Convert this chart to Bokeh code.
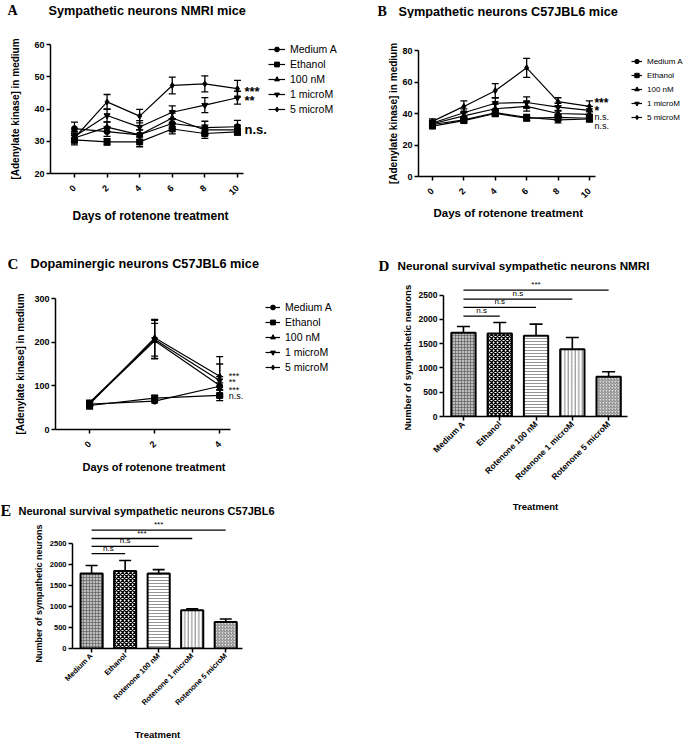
import math
from bokeh.plotting import figure
from bokeh.models import (Range1d, FixedTicker, Whisker, TeeHead, ColumnDataSource,
                          Label, Legend, LegendItem, Title)
from bokeh.core.properties import value
from bokeh.layouts import row, column
from bokeh.embed import file_html
from bokeh.resources import INLINE

SANS = "Liberation Sans"
SERIF = "Liberation Serif"

# ---------------- data ----------------
series_names = ["Medium A", "Ethanol", "100 nM", "1 microM", "5 microM"]
series_markers = ["circle", "square", "triangle", "inverted_triangle", "diamond"]

# Panel A - Sympathetic neurons NMRI mice
days_a = [0, 2, 4, 6, 8, 10]
a_medium = [33.9, 33.0, 32.0, 35.5, 34.2, 34.5]
a_ethanol = [30.4, 29.8, 29.8, 33.8, 32.4, 32.9]
a_100nm = [31.0, 34.4, 32.0, 37.2, 33.5, 33.5]
a_1um = [31.5, 38.0, 34.4, 39.0, 41.2, 43.5]
a_5um = [31.0, 42.2, 37.8, 47.3, 47.8, 46.3]
a_medium_err = [2.0, 1.5, 1.5, 1.5, 2.0, 2.0]
a_ethanol_err = [1.5, 1.0, 1.5, 1.5, 1.5, 1.0]
a_100nm_err = [1.5, 1.5, 1.5, 1.5, 1.5, 1.5]
a_1um_err = [1.5, 2.0, 2.0, 2.0, 2.3, 2.0]
a_5um_err = [1.5, 2.3, 2.1, 2.6, 2.5, 2.6]
a_yticks = [20, 30, 40, 50, 60]
a_sig_text = ["***", "**", "n.s."]
a_sig_y = [45.4, 42.6, 33.6]

# Panel B - Sympathetic neurons C57JBL6 mice
days_b = [0, 2, 4, 6, 8, 10]
b_medium = [33.0, 36.0, 40.5, 37.5, 36.0, 36.5]
b_ethanol = [32.0, 35.5, 40.0, 37.0, 37.5, 37.0]
b_100nm = [33.5, 38.5, 43.0, 44.5, 40.0, 39.5]
b_1um = [34.0, 40.5, 46.5, 47.0, 44.0, 42.0]
b_5um = [35.0, 44.5, 54.5, 69.0, 47.5, 44.5]
b_medium_err = [1.5, 1.5, 2.0, 2.0, 2.0, 2.0]
b_ethanol_err = [1.5, 1.5, 2.0, 1.5, 2.0, 2.0]
b_100nm_err = [1.5, 2.0, 3.0, 3.0, 2.0, 2.0]
b_1um_err = [1.5, 2.5, 3.5, 3.5, 2.5, 2.5]
b_5um_err = [1.5, 3.5, 4.5, 6.0, 2.5, 3.5]
b_yticks = [0, 20, 40, 60, 80]
b_sig_text = ["***", "*", "n.s.", "n.s."]
b_sig_y = [46.5, 41.4, 37.5, 32.0]

# Panel C - Dopaminergic neurons C57JBL6 mice
days_c = [0, 2, 4]
c_medium = [58, 65, 99]
c_ethanol = [55, 72, 78]
c_100nm = [60, 203, 101]
c_1um = [62, 206, 112]
c_5um = [58, 210, 122]
c_medium_err = [5, 4, 8]
c_ethanol_err = [8, 6, 12]
c_100nm_err = [5, 40, 20]
c_1um_err = [5, 44, 38]
c_5um_err = [5, 42, 45]
c_yticks = [0, 100, 200, 300]
c_sig_text = ["***", "**", "***", "n.s."]
c_sig_y = [123, 109, 91, 75.6]

# Panel D - Neuronal survival sympathetic neurons NMRI
treatments = ["Medium A", "Ethanol", "Rotenone 100 nM", "Rotenone 1 microM", "Rotenone 5 microM"]
d_values = [1724, 1710, 1662, 1387, 817]
d_errors = [130, 227, 240, 241, 103]
d_sig_y = [2067, 2246, 2418, 2603]
d_sig_to = [1, 2, 3, 4]
d_sig_text = ["n.s", "n.s", "n.s", "***"]

# Panel E - Neuronal survival sympathetic neurons C57JBL6
e_values = [1789, 1849, 1789, 913, 629]
e_errors = [187, 247, 90, 30, 75]
e_sig_y = [2260, 2433, 2620, 2822]
e_sig_to = [1, 2, 3, 4]
e_sig_text = ["n.s", "n.s", "***", "***"]

bar_yticks = [0, 500, 1000, 1500, 2000, 2500]

# bar fill styles (GraphPad-like patterns)
bar_styles = [
    dict(fill_color="#bdbdbd", hatch_pattern="cross", hatch_scale=3, hatch_weight=0.6, hatch_color="#555555"),
    dict(fill_color="white", hatch_pattern="diagonal_cross", hatch_scale=4, hatch_weight=1.3, hatch_color="black"),
    dict(fill_color="white", hatch_pattern="horizontal_line", hatch_scale=3, hatch_weight=0.7, hatch_color="#666666"),
    dict(fill_color="white", hatch_pattern="vertical_line", hatch_scale=3.5, hatch_weight=0.7, hatch_color="#444444"),
    dict(fill_color="#dddddd", hatch_pattern="right_diagonal_line", hatch_scale=3, hatch_weight=0.7, hatch_color="#555555"),
]


# ---------------- helpers ----------------
def base_fig(width, height, left, top, right, bottom, xr, yr):
    p = figure(width=width, height=height, x_range=Range1d(*xr), y_range=Range1d(*yr),
               output_backend="svg", toolbar_location=None,
               min_border_left=left, min_border_top=top,
               min_border_right=right, min_border_bottom=bottom)
    p.frame_align = False
    p.outline_line_color = None
    p.xgrid.visible = False
    p.ygrid.visible = False
    p.background_fill_color = "white"
    p.border_fill_color = "white"
    return p


def title_fig(width, height, letter, text, lx, tx, ty, letter_fs, text_fs):
    t = figure(width=width, height=height, x_range=Range1d(0, width), y_range=Range1d(height, 0),
               x_axis_type=None, y_axis_type=None, output_backend="svg",
               toolbar_location=None, min_border=0)
    t.frame_align = False
    t.outline_line_color = None
    t.xgrid.visible = False
    t.ygrid.visible = False
    t.text(x=[lx], y=[ty], text=[letter], text_font=value(SERIF), text_font_style="bold",
           text_font_size=letter_fs, text_baseline="middle", text_color="black")
    t.text(x=[tx], y=[ty], text=[text], text_font=value(SANS), text_font_style="bold",
           text_font_size=text_fs, text_baseline="middle", text_color="black")
    return t


def style_axes(p, tick_fs, xlabel, ylabel, xl_fs, yl_fs):
    for ax in (p.xaxis[0], p.yaxis[0]):
        ax.axis_line_color = "black"
        ax.axis_line_width = 1.5
        ax.major_tick_line_color = "black"
        ax.major_tick_line_width = 1.5
        ax.major_tick_out = 4
        ax.major_tick_in = 0
        ax.minor_tick_line_color = None
        ax.major_label_text_font = SANS
        ax.major_label_text_font_style = "bold"
        ax.major_label_text_font_size = tick_fs
        ax.major_label_text_color = "black"
        ax.major_label_standoff = 2
        ax.axis_label_text_font = SANS
        ax.axis_label_text_font_style = "bold"
        ax.axis_label_text_color = "black"
    p.xaxis[0].axis_label = xlabel
    p.xaxis[0].axis_label_text_font_size = xl_fs
    p.xaxis[0].major_label_orientation = math.pi / 4
    p.yaxis[0].axis_label = ylabel
    p.yaxis[0].axis_label_text_font_size = yl_fs


def add_series(p, days, vals, errs, marker, size, cap):
    src = ColumnDataSource(dict(x=days, y=vals,
                                lo=[v - e for v, e in zip(vals, errs)],
                                hi=[v + e for v, e in zip(vals, errs)]))
    w = Whisker(base="x", lower="lo", upper="hi", source=src, dimension="height",
                line_color="black", line_width=1.3,
                upper_head=TeeHead(size=cap, line_color="black", line_width=1.3),
                lower_head=TeeHead(size=cap, line_color="black", line_width=1.3))
    p.add_layout(w)
    ln = p.line("x", "y", source=src, line_color="black", line_width=1.2)
    sc = p.scatter("x", "y", source=src, marker=marker, size=size,
                   fill_color="black", line_color="black")
    return ln, sc


def add_legend(p, renderers, loc, fs, glyph_w, row_h, spacing):
    items = [LegendItem(label=n, renderers=list(r)) for n, r in zip(series_names, renderers)]
    leg = Legend(items=items, location=loc, border_line_color=None,
                 background_fill_alpha=0, label_text_font=SANS, label_text_font_size=fs,
                 label_text_color="black", glyph_width=glyph_w, glyph_height=row_h,
                 label_height=row_h, spacing=spacing, padding=0, margin=0, label_standoff=5)
    p.add_layout(leg)


def add_sig(p, xval, xoff, texts, ys, sizes, styles):
    for t, yv, fs, st in zip(texts, ys, sizes, styles):
        p.add_layout(Label(x=xval, y=yv, x_offset=xoff, text=t, text_font=SANS,
                           text_font_size=fs, text_font_style=st, text_baseline="middle",
                           text_color="black"))


def line_panel(width, height, borders, xr, yr, xbounds, yticks, days, vals, errs,
               msize, cap, tick_fs, xl_fs, xl_offset, xl_stand, yl_stand):
    p = base_fig(width, height, *borders, xr, yr)
    style_axes(p, tick_fs, None, "[Adenylate kinase] in medium", xl_fs, "10px")
    # x-axis title placed below the (extended) frame, aligned under the drawn axis
    p.add_layout(Title(text="Days of rotenone treatment", align="left", offset=xl_offset,
                       standoff=xl_stand, vertical_align="top", text_font=SANS,
                       text_font_style="bold", text_font_size=xl_fs, text_color="black"), "below")
    p.xaxis[0].ticker = FixedTicker(ticks=days)
    p.xaxis[0].bounds = xbounds
    p.xaxis[0].major_label_standoff = 9
    p.yaxis[0].axis_label_standoff = yl_stand
    p.yaxis[0].ticker = FixedTicker(ticks=yticks)
    rends = []
    for v, e, m in zip(vals, errs, series_markers):
        rends.append(add_series(p, days, v, e, m, msize, cap))
    return p, rends


def bar_panel(width, height, borders, xr, yr, values, errors, sig_y, sig_to, sig_text,
              tick_fs, yl_fs, xl_fs, bar_w, cap, sig_fs, xl_stand, yl_stand, yl_offset):
    p = base_fig(width, height, *borders, xr, yr)
    xs = list(range(len(treatments)))
    style_axes(p, tick_fs, "Treatment", None, xl_fs, yl_fs)
    p.add_layout(Title(text="Number of sympathetic neurons", align="left", offset=yl_offset,
                       standoff=yl_stand, vertical_align="bottom", text_font=SANS,
                       text_font_style="bold", text_font_size=yl_fs, text_color="black"), "left")
    p.xaxis[0].ticker = FixedTicker(ticks=xs)
    p.xaxis[0].major_label_overrides = {i: t for i, t in zip(xs, treatments)}
    p.xaxis[0].axis_label_standoff = xl_stand
    p.yaxis[0].ticker = FixedTicker(ticks=bar_yticks)
    p.yaxis[0].bounds = (bar_yticks[0], bar_yticks[-1])
    for i in xs:
        p.vbar(x=[xs[i]], top=[values[i]], width=bar_w, bottom=0,
               line_color="black", line_width=2, **bar_styles[i])
    src = ColumnDataSource(dict(x=xs, top=values, hi=[v + e for v, e in zip(values, errors)]))
    p.add_layout(Whisker(base="x", lower="top", upper="hi", source=src, dimension="height",
                         line_color="black", line_width=1.6, lower_head=None,
                         upper_head=TeeHead(size=cap, line_color="black", line_width=1.6)))
    p.segment(x0=[xs[0]] * len(sig_y), y0=sig_y, x1=[xs[j] for j in sig_to], y1=sig_y,
              line_color="black", line_width=1.3)
    for yv, j, t in zip(sig_y, sig_to, sig_text):
        p.add_layout(Label(x=(xs[0] + xs[j]) / 2, y=yv, y_offset=1, text=t, text_font=SANS,
                           text_font_size=sig_fs, text_align="center", text_baseline="bottom",
                           text_color="black"))
    return p


LW = 345  # left column width
RW = 340  # right column width

# ---------------- Panel A ----------------
tA = title_fig(LW, 18, "A", "Sympathetic neurons NMRI mice", 7, 48, 10, "14px", "12.7px")
pA, rA = line_panel(LW, 214, (50, 26, 0, 56), (-1.47, 16.63), (20, 60), (-1.47, 10.37),
                    a_yticks, days_a,
                    [a_medium, a_ethanol, a_100nm, a_1um, a_5um],
                    [a_medium_err, a_ethanol_err, a_100nm_err, a_1um_err, a_5um_err],
                    6, 7, "9px", "12px", 22, 16, 10)
add_legend(pA, rA, (218, 58), "10.5px", 17, 12, 3)
add_sig(pA, days_a[-1], 7, a_sig_text, a_sig_y, ["13px", "13px", "13px"], ["bold", "bold", "bold"])

# ---------------- Panel B ----------------
tB = title_fig(RW, 18, "B", "Sympathetic neurons C57JBL6 mice", 32, 53, 11, "14px", "12.7px")
pB, rB = line_panel(RW, 214, (73, 32, 0, 56), (-0.89, 16.12), (0, 80), (-0.89, 10.38),
                    b_yticks, days_b,
                    [b_medium, b_ethanol, b_100nm, b_1um, b_5um],
                    [b_medium_err, b_ethanol_err, b_100nm_err, b_1um_err, b_5um_err],
                    6, 7, "9px", "11.5px", 15, 6, 0)
add_legend(pB, rB, (213, 53), "8px", 11, 12, 2)
add_sig(pB, days_b[-1], 5, b_sig_text, b_sig_y, ["12px", "12px", "9px", "9px"],
        ["bold", "bold", "normal", "normal"])

# ---------------- Panel C ----------------
tC = title_fig(LW, 44, "C", "Dopaminergic neurons C57JBL6 mice", 7, 30, 31, "15px", "12.7px")
pC, rC = line_panel(LW, 214, (55, 22, 0, 61), (-1.05, 7.87), (0, 300), (-1.05, 4.34),
                    c_yticks, days_c,
                    [c_medium, c_ethanol, c_100nm, c_1um, c_5um],
                    [c_medium_err, c_ethanol_err, c_100nm_err, c_1um_err, c_5um_err],
                    6, 7, "9px", "11px", 27, 14, 5)
add_legend(pC, rC, (210, 56), "10.5px", 15, 12, 3)
add_sig(pC, days_c[-1], 9, c_sig_text, c_sig_y, ["9px", "9px", "9px", "9px"],
        ["normal", "normal", "normal", "normal"])

# ---------------- Panel D ----------------
tD = title_fig(RW, 44, "D", "Neuronal survival sympathetic neurons NMRI", 33, 52, 33, "15px", "11.7px")
pD = bar_panel(RW, 467, (98, 0, 58, 327), (-0.55, 4.52), (0, 2883), d_values, d_errors,
               d_sig_y, d_sig_to, d_sig_text, "8.5px", "9.5px", "9.5px", 0.67, 13, "8px",
               13, 6, -14)

# ---------------- Panel E ----------------
tE = title_fig(LW, 28, "E", "Neuronal survival sympathetic neurons C57JBL6", 0, 18, 20, "16px", "11px")
pE = bar_panel(LW, 225, (72, 0, 103, 87), (-0.57, 4.5), (0, 3097), e_values, e_errors,
               e_sig_y, e_sig_to, e_sig_text, "7.5px", "9px", "9.5px", 0.66, 12, "8px",
               16, 6, -14)

layout = row(column(tA, pA, tC, pC, tE, pE), column(tB, pB, tD, pD))

with open("out.html", "w") as f:
    f.write(file_html(layout, INLINE))
